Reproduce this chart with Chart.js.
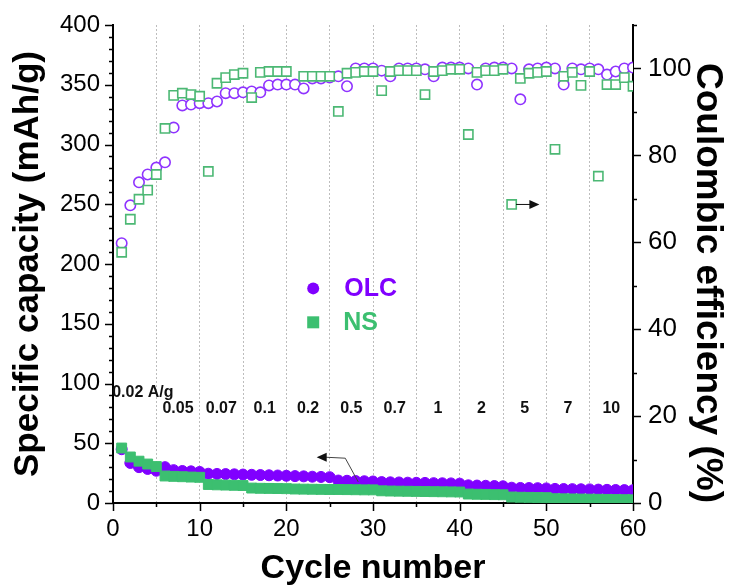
<!DOCTYPE html>
<html>
<head>
<meta charset="utf-8">
<script src="https://cdn.jsdelivr.net/npm/chart.js@4.4.0/dist/chart.umd.min.js"></script>
<style>
  html, body { margin: 0; padding: 0; background: #fff; }
  #wrap { width: 731px; height: 587px; }
</style>
</head>
<body>
<div id="wrap"><canvas id="grafica" width="731" height="587"></canvas></div>
<script>
// Datos
const ciclos = [1,2,3,4,5,6,7,8,9,10,11,12,13,14,15,16,17,18,19,20,
  21,22,23,24,25,26,27,28,29,30,31,32,33,34,35,36,37,38,39,40,
  41,42,43,44,45,46,47,48,49,50,51,52,53,54,55,56,57,58,59,60];

// capacidad específica (mAh/g), eje izquierdo
const capOLC = [45,33.5,30,28.5,27, 30,27.5,26.8,26.5,26, 24.5,24.3,24.2,24,23.8,
  23.6,23.4,23.2,23,22.8, 22.5,22.3,22,21.8,21.6, 18.8,18.6,18.4,18.2,18,
  17.5,17.3,17.2,17,16.9, 16.8,16.6,16.5,16.4,16.2, 14.8,14.6,14.4,14.2,14,
  12.8,12.6,12.5,12.4,12.2, 11.8,11.7,11.6,11.5,11.4, 11.2,11,10.9,10.8,10.7];
const capNS = [46,38.5,35,32.6,30.5, 22.6,22.3,22,21.7,21.5, 15.5,15.2,15,14.8,14.6,
  12.5,12.3,12.2,12.1,12, 11.7,11.6,11.5,11.4,11.3, 11.3,11.2,11.1,11,11,
  10.2,10,9.9,9.8,9.7, 9.6,9.5,9.4,9.3,9.2, 7.5,7.3,7.2,7,6.9,
  5,4.8,4.7,4.6,4.5, 3.6,3.5,3.4,3.3,3.2, 3.1,3,2.9,2.8,2.7];

// eficiencia coulómbica (%), eje derecho
const ceOLC = [59.8,68.5,73.8,75.6,77.2, 78.4,86.4,91.5,91.7,92.0, 92.0,92.4,94.3,94.3,94.5,
  94.7,94.5,96.1,96.3,96.3, 96.3,95.4,97.7,97.7,97.9, 98.2,95.9,100,100,100,
  99.5,98.2,100,100,100, 99.8,98.2,100.2,100.2,100.2, 100,96.3,100,100.2,100.2,
  100,92.9,99.8,100,100.2, 100,96.3,100,99.8,100, 99.8,98.6,99.3,100,100.2];
const ceNS = [57.7,65.3,69.9,72.0,75.6, 86.2,93.8,94.3,94.0,93.6, 76.3,96.6,97.9,98.6,98.9,
  93.3,99.1,99.3,99.3,99.3, null,98.2,98.2,98.2,98.2, 90.1,98.9,99.1,99.3,99.3,
  94.9,99.3,99.5,99.5,99.5, 94.0,99.3,99.5,99.8,99.8, 84.8,99.1,99.5,99.5,99.8,
  68.7,97.7,98.9,99.1,99.3, 81.4,98.2,99.1,96.1,99.3, 75.2,96.3,96.3,97.9,95.9];

// densidades de corriente (A/g), una por bloque de 5 ciclos
const tasas = ['0.02 A/g','0.05','0.07','0.1','0.2','0.5','0.7','1','2','5','7','10'];
const tasaCentro = [0.5,7.5,12.5,17.5,22.5,27.5,32.5,37.5,42.5,47.5,52.5,57.5];

const ticksX = [0,10,20,30,40,50,60];

const MORADO = '#8000ff';
const VERDE = '#3cbf70';
const FUENTE = "'Liberation Sans', Arial, sans-serif";

function puntos(ys) {
    return ciclos.map((c, i) => ({ x: c, y: ys[i] }));
}

// marcas menores y mayores de los ejes
const marcasEjes = {
    id: 'marcasEjes',
    afterDraw(chart) {
        const { ctx, chartArea } = chart;
        const { x, y, y1 } = chart.scales;
        ctx.save();
        ctx.strokeStyle = '#000';
        ctx.lineWidth = 1.5;
        ctx.beginPath();
        for (let v = 0; v <= 400; v += 10) {
            const py = Math.round(y.getPixelForValue(v)) + 0.5;
            const len = v % 50 === 0 ? 8 : 4;
            ctx.moveTo(chartArea.left, py);
            ctx.lineTo(chartArea.left - len, py);
        }
        for (let v = 0; v <= 110; v += 10) {
            const py = Math.round(y1.getPixelForValue(v)) + 0.5;
            const len = v % 20 === 0 ? 8 : 4;
            ctx.moveTo(chartArea.right, py);
            ctx.lineTo(chartArea.right + len, py);
        }
        for (let v = 0; v <= 60; v += 5) {
            const px = Math.round(x.getPixelForValue(v)) + 0.5;
            const len = v % 10 === 0 ? 8 : 4;
            ctx.moveTo(px, chartArea.bottom);
            ctx.lineTo(px, chartArea.bottom + len);
        }
        ctx.stroke();
        ctx.restore();
    }
};

// rótulos de tasa, flechas y leyenda interna
const anotaciones = {
    id: 'anotaciones',
    afterDatasetsDraw(chart) {
        const { ctx, chartArea } = chart;
        const { x, y, y1 } = chart.scales;
        ctx.save();
        ctx.fillStyle = '#111';
        ctx.font = 'bold 16px ' + FUENTE;
        ctx.textBaseline = 'middle';
        tasas.forEach((t, i) => {
            if (i === 0) {
                ctx.textAlign = 'left';
                ctx.fillText(t, x.getPixelForValue(-0.1), y.getPixelForValue(92));
            } else {
                ctx.textAlign = 'center';
                ctx.fillText(t, x.getPixelForValue(tasaCentro[i]), y.getPixelForValue(79));
            }
        });

        // flecha hacia el eje derecho
        ctx.strokeStyle = '#111';
        ctx.lineWidth = 1;
        const ay = y1.getPixelForValue(68.7);
        const ax0 = x.getPixelForValue(46.5);
        const ax1 = x.getPixelForValue(49.2);
        ctx.beginPath();
        ctx.moveTo(ax0, ay);
        ctx.lineTo(ax1 - 9, ay);
        ctx.stroke();
        ctx.beginPath();
        ctx.moveTo(ax1, ay);
        ctx.lineTo(ax1 - 10, ay - 4.5);
        ctx.lineTo(ax1 - 10, ay + 4.5);
        ctx.closePath();
        ctx.fill();

        // flecha hacia el eje izquierdo
        const p1 = [x.getPixelForValue(28.3), y.getPixelForValue(17.6)];
        const p2 = [x.getPixelForValue(26.8), y.getPixelForValue(37.5)];
        const p3 = [x.getPixelForValue(23.5), y.getPixelForValue(38.3)];
        ctx.strokeStyle = '#444';
        ctx.beginPath();
        ctx.moveTo(p1[0], p1[1]);
        ctx.lineTo(p2[0], p2[1]);
        ctx.lineTo(p3[0] + 9, p3[1]);
        ctx.stroke();
        ctx.fillStyle = '#111';
        ctx.beginPath();
        ctx.moveTo(p3[0], p3[1]);
        ctx.lineTo(p3[0] + 10, p3[1] - 4.5);
        ctx.lineTo(p3[0] + 10, p3[1] + 4.5);
        ctx.closePath();
        ctx.fill();

        // leyenda
        const lx = chartArea.left + 0.385 * (chartArea.right - chartArea.left);
        const ly1 = chartArea.top + 0.551 * (chartArea.bottom - chartArea.top);
        const ly2 = chartArea.top + 0.622 * (chartArea.bottom - chartArea.top);
        ctx.fillStyle = MORADO;
        ctx.beginPath();
        ctx.arc(lx, ly1, 6, 0, Math.PI * 2);
        ctx.fill();
        ctx.fillStyle = VERDE;
        ctx.fillRect(lx - 6, ly2 - 6, 12, 12);
        ctx.font = 'bold 25px ' + FUENTE;
        ctx.textAlign = 'left';
        ctx.fillStyle = MORADO;
        ctx.fillText(chart.data.datasets[1].label, lx + 31, ly1 + 1);
        ctx.fillStyle = VERDE;
        ctx.fillText(chart.data.datasets[0].label, lx + 30, ly2 + 1);
        ctx.restore();
    }
};

const grafica = new Chart(document.getElementById('grafica'), {
    type: 'scatter',
    data: {
        datasets: [
            {
                label: 'NS', data: puntos(capNS), yAxisID: 'y',
                pointStyle: 'rect', pointRadius: 7, pointHoverRadius: 7,
                backgroundColor: VERDE, borderColor: VERDE, borderWidth: 1
            },
            {
                label: 'OLC', data: puntos(capOLC), yAxisID: 'y',
                pointStyle: 'circle', pointRadius: 5.5, pointHoverRadius: 5.5,
                backgroundColor: MORADO, borderColor: MORADO, borderWidth: 1
            },
            {
                label: 'NS CE', data: puntos(ceNS), yAxisID: 'y1',
                pointStyle: 'rect', pointRadius: 6.5, pointHoverRadius: 6.5,
                backgroundColor: '#ffffff', borderColor: '#4cb874', borderWidth: 1.6
            },
            {
                label: 'OLC CE', data: puntos(ceOLC), yAxisID: 'y1',
                pointStyle: 'circle', pointRadius: 5.2, pointHoverRadius: 5.2,
                backgroundColor: '#ffffff', borderColor: '#8f33ff', borderWidth: 1.6
            }
        ]
    },
    options: {
        responsive: false,
        animation: false,
        devicePixelRatio: 1,
        layout: { padding: { top: 25, left: 0, right: 0, bottom: 0 } },
        plugins: {
            legend: { display: false },
            tooltip: { enabled: false }
        },
        scales: {
            x: {
                type: 'linear', min: 0, max: 60,
                afterFit(s) { s.height = 84; },
                ticks: {
                    stepSize: 5, autoSkip: false, maxRotation: 0, padding: 12,
                    color: '#000', font: { family: FUENTE, size: 24 },
                    callback: v => ticksX.includes(v) ? v : ''
                },
                grid: {
                    drawTicks: false, lineWidth: 1,
                    color: c => (c.tick && (c.tick.value === 0 || c.tick.value === 60)) ? 'rgba(0,0,0,0)' : '#bdbdbd'
                },
                border: { display: true, color: '#000', width: 2, dash: [2, 2] },
                title: {
                    display: true, text: 'Cycle number', color: '#000',
                    font: { family: FUENTE, size: 34, weight: 'bold', lineHeight: 1.1 },
                    padding: { top: 0, bottom: 0 }
                }
            },
            y: {
                position: 'left', min: 0, max: 400,
                afterFit(s) { s.width = 113; },
                ticks: {
                    stepSize: 50, padding: 1, color: '#000',
                    font: { family: FUENTE, size: 24 }
                },
                // marcas propias en el plugin; tickLength solo separa los rótulos
                grid: { display: false, drawTicks: true, tickLength: 12 },
                border: { display: true, color: '#000', width: 2 },
                title: {
                    display: true, text: 'Specific capacity (mAh/g)', color: '#000',
                    font: { family: FUENTE, size: 35, weight: 'bold', lineHeight: 1.2 },
                    padding: { top: 7, bottom: 0 }
                }
            },
            y1: {
                position: 'right', min: 0, max: 110,
                afterFit(s) { s.width = 98; },
                ticks: {
                    stepSize: 20, includeBounds: false, padding: 1, color: '#000',
                    font: { family: FUENTE, size: 26 }
                },
                grid: { display: false, drawTicks: true, tickLength: 14 },
                border: { display: true, color: '#000', width: 2 },
                title: {
                    display: true, text: 'Coulombic efficiency (%)', color: '#000', align: 'start',
                    font: { family: FUENTE, size: 37, weight: 'bold', lineHeight: 1.2 },
                    padding: { top: 2, bottom: 0 }
                }
            }
        }
    },
    plugins: [anotaciones, marcasEjes]
});
</script>
</body>
</html>
